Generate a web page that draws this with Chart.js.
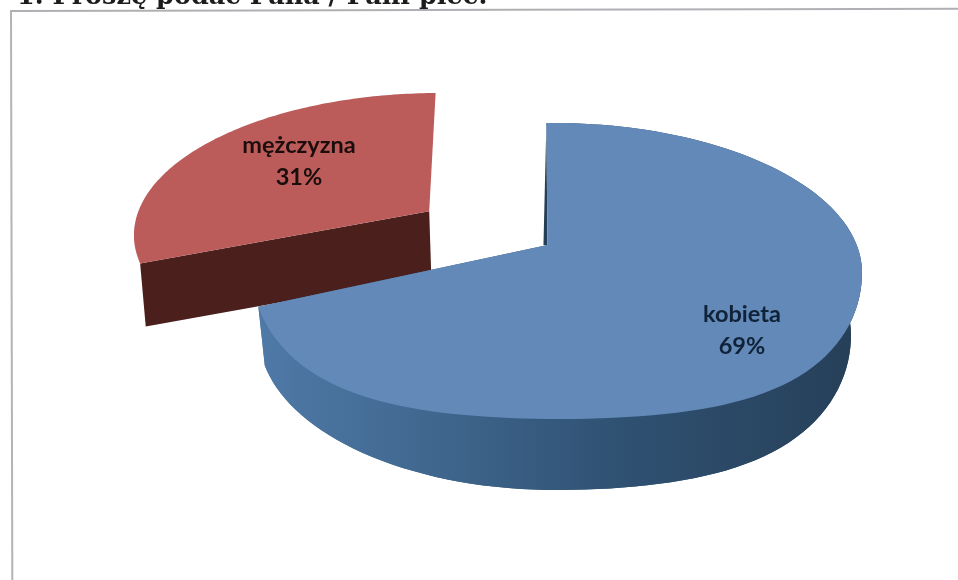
<!DOCTYPE html>
<html>
<head>
<meta charset="utf-8">
<script src="https://cdn.jsdelivr.net/npm/chart.js@4"></script>
<style>
    html, body { margin: 0; padding: 0; background: #fff; overflow: hidden; }
    #page { position: relative; width: 958px; height: 580px; overflow: hidden; filter: blur(0.7px); }
    #question { position: absolute; left: 17px; top: -20px; font: bold 25.5px "DejaVu Serif", serif; color: #1c1c1c; white-space: nowrap; }
    #frame { position: absolute; left: 10px; top: 10px; width: 970px; height: 600px; border-left: 2px solid #b4b4b8; border-top: 2px solid #b0b0b4; transform: rotate(-0.13deg); transform-origin: 0 0; }
    #pie { position: absolute; left: 0; top: 0; }
</style>
</head>
<body>
<div id="page">
    <div id="question">1. Proszę podać Pana / Pani płeć:</div>
    <div id="frame"></div>
    <canvas id="pie" width="958" height="580"></canvas>
</div>
<script>
const categories = ['kobieta', 'mężczyzna'];
const percentages = [69, 31];

const topColors = ['#6289b8', '#bb5c5a'];
const labelColors = ['#0f2238', '#1c0d0d'];

// the slices are tilted and pulled apart, so each has its own top and floor ellipse
const tilt = [
    {
        top: { cx: 557, cy: 271, rx: 305, ry: 148, ax: -0.03, ay: -0.176, skew: 0.02, bulgeL: 0.25, bulgeR: 0.25 },
        floor: { cx: 555, cy: 335, rx: 296, ry: 155, ax: -0.023, ay: -0.176, skew: 0, bulgeL: 0, bulgeR: 0.21 }
    },
    {
        top: { cx: 432, cy: 232, rx: 298, ry: 139, ax: -0.013, ay: -0.15, skew: -0.05, bulgeL: 0, bulgeR: 0 },
        floor: { cx: 440, cy: 296, rx: 300, ry: 139, ax: -0.033, ay: -0.15, skew: -0.05, bulgeL: 0, bulgeR: 0 }
    }
];
const labelAt = [[742, 330], [299, 161]];

// perspective map of the unit circle, straight lines stay straight
function project(g, u, v) {
    const d1 = 1 + g.ax * u;
    const u1 = (u + g.ax) / d1;
    const v1 = v * Math.sqrt(1 - g.ax * g.ax) / d1;
    const d2 = 1 + g.ay * v1;
    const v2 = (v1 + g.ay) / d2;
    const u2 = u1 * Math.sqrt(1 - g.ay * g.ay) / d2;
    // the photographed rim is fuller in its lower half than a true ellipse
    const bulge = v2 > 0 ? (u2 < 0 ? g.bulgeL : g.bulgeR) * u2 * u2 * v2 : 0;
    return { x: g.cx + g.rx * u2 + g.skew * g.ry * v2, y: g.cy + g.ry * (v2 + bulge) };
}

function rim(g, arc, steps) {
    const points = [];
    for (let i = 0; i <= steps; i++) {
        const a = arc.startAngle + (arc.endAngle - arc.startAngle) * i / steps;
        points.push(project(g, Math.cos(a), Math.sin(a)));
    }
    return points;
}

function fillPoints(ctx, points, color) {
    ctx.beginPath();
    points.forEach(function(p, i) {
        if (i === 0) ctx.moveTo(p.x, p.y);
        else ctx.lineTo(p.x, p.y);
    });
    ctx.closePath();
    ctx.fillStyle = color;
    ctx.fill();
}

function wallColor(ctx, index) {
    if (index === 1) return '#4a1f1c';
    const gradient = ctx.createLinearGradient(258, 0, 862, 0);
    gradient.addColorStop(0, '#4f79a7');
    gradient.addColorStop(0.3, '#3f668d');
    gradient.addColorStop(0.6, '#2f5172');
    gradient.addColorStop(1, '#263f58');
    return gradient;
}

const tiltedPie = {
    id: 'tiltedPie',
    beforeDatasetsDraw(chart) {
        const ctx = chart.ctx;
        const arcs = chart.getDatasetMeta(0).data;

        // back slice first, the big one overlaps its wall
        [1, 0].forEach(function(i) {
            const arc = arcs[i];
            const g = tilt[i];
            const topRim = rim(g.top, arc, 120);
            const floorRim = rim(g.floor, arc, 120);
            const topApex = project(g.top, 0, 0);
            const floorApex = project(g.floor, 0, 0);
            const wall = wallColor(ctx, i);
            // red runs from the left end up to the notch, so its front edge is its first point
            const front = i === 1 ? 0 : 120;

            if (i === 0) {
                fillPoints(ctx, [floorApex].concat(floorRim), wall);
                fillPoints(ctx, topRim.concat(floorRim.slice().reverse()), wall);
                // thin dark cut face along the notch
                fillPoints(ctx, [topRim[0], topApex, { x: topApex.x - 4, y: topApex.y }], '#263f58');
            }
            fillPoints(ctx, [topApex, topRim[front], floorRim[front], floorApex], wall);
            fillPoints(ctx, [topApex].concat(topRim), arc.options.backgroundColor);
        });

        ctx.textAlign = 'center';
        ctx.textBaseline = 'middle';
        ctx.font = 'bold 23.5px Lato, sans-serif';
        categories.forEach(function(name, i) {
            ctx.fillStyle = labelColors[i];
            ctx.fillText(name, labelAt[i][0], labelAt[i][1] - 16);
            ctx.fillText(percentages[i] + '%', labelAt[i][0], labelAt[i][1] + 16);
        });
        return false;
    }
};

new Chart(document.getElementById('pie').getContext('2d'), {
    type: 'pie',
    data: {
        labels: categories,
        datasets: [{
            data: percentages,
            backgroundColor: topColors,
            borderWidth: 0
        }]
    },
    options: {
        responsive: false,
        animation: false,
        plugins: {
            legend: { display: false },
            tooltip: { enabled: false }
        }
    },
    plugins: [tiltedPie]
});
</script>
</body>
</html>
